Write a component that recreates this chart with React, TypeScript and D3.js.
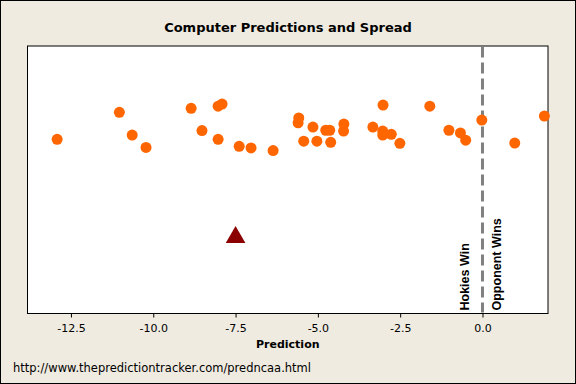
import React, { useEffect, useRef } from "react";
import * as d3 from "d3";

// computer predictions (points), x = predicted margin, y = vertical jitter
const predictions = [
  -12.92, -11.03, -10.64, -10.22, -8.85, -8.52, -8.03, -7.91, -8.03, -7.39,
  -7.03, -6.36, -5.58, -5.6, -5.43, -5.15, -5.03, -4.76, -4.64, -4.61,
  -4.21, -4.22, -3.33, -3.02, -3.03, -3.03, -2.77, -2.51, -1.6, -1.02,
  -0.67, -0.51, -0.02, 0.98, 1.88,
];
const jitter = [
  65.1, 75.2, 66.7, 62.1, 76.7, 68.4, 77.5, 78.3, 65.1, 62.5,
  61.9, 60.9, 73.1, 71.3, 64.4, 69.7, 64.4, 68.5, 68.5, 64.0,
  70.8, 68.2, 69.7, 77.9, 68.2, 66.7, 67.0, 63.6, 77.5, 68.5,
  67.5, 64.8, 72.3, 63.7, 73.8,
];
const spread = [{ x: -7.5, y: 28.5 }];
const xTicks = [-12.5, -10, -7.5, -5, -2.5, 0];

const W = 576;
const H = 384;
const plot = { left: 27.5, right: 548, top: 46, bottom: 313.5 };

const App = () => {
  const ref = useRef(null);

  useEffect(() => {
    const svg = d3.select(ref.current);
    svg.selectAll("*").remove();

    const x = d3.scaleLinear().domain([-13.82, 1.99]).range([plot.left, plot.right]);
    const y = d3.scaleLinear().domain([0, 100]).range([plot.bottom, plot.top]);

    svg.append("rect")
      .attr("x", 0.5).attr("y", 0.5)
      .attr("width", W - 1).attr("height", H - 1)
      .attr("fill", "#efebe0").attr("stroke", "#000");

    svg.append("text")
      .attr("x", 288).attr("y", 31.5)
      .attr("text-anchor", "middle")
      .style("font-family", "DejaVu Sans")
      .style("font-weight", "bold")
      .style("font-size", "13px")
      .text("Computer Predictions and Spread");

    svg.append("rect")
      .attr("x", plot.left).attr("y", plot.top)
      .attr("width", plot.right - plot.left)
      .attr("height", plot.bottom - plot.top)
      .attr("fill", "#fff").attr("stroke", "#000");

    // x axis
    const axis = svg.append("g")
      .attr("transform", `translate(0,${plot.bottom})`)
      .call(d3.axisBottom(x).tickValues(xTicks).tickSize(4).tickSizeOuter(0));
    axis.select(".domain").remove();
    axis.selectAll("line").attr("stroke", "#000");
    axis.selectAll("text")
      .attr("dy", "1.05em")
      .style("font-family", "DejaVu Sans")
      .style("font-size", "11px")
      .attr("fill", "#000")
      .text(d => d3.format(".1f")(d).replace("−", "-"));

    svg.append("text")
      .attr("x", (plot.left + plot.right) / 2).attr("y", 348)
      .attr("text-anchor", "middle")
      .style("font-family", "DejaVu Sans")
      .style("font-weight", "bold")
      .style("font-size", "11px")
      .text("Prediction");

    svg.append("text")
      .attr("x", 13).attr("y", 372)
      .style("font-family", "DejaVu Sans")
      .style("font-size", "11.5px")
      .text("http://www.thepredictiontracker.com/predncaa.html");

    // reference line at 0
    svg.append("line")
      .attr("x1", x(0)).attr("x2", x(0))
      .attr("y1", plot.top + 0.5).attr("y2", plot.bottom - 1)
      .attr("stroke", "#808080")
      .attr("stroke-width", 3)
      .attr("stroke-dasharray", "11,5");

    const label = (txt, px) =>
      svg.append("text")
        .attr("transform", `translate(${px},${plot.bottom - 3}) rotate(-90)`)
        .style("font-family", "Liberation Sans")
        .style("font-weight", "bold")
        .style("font-size", "12.5px")
        .text(txt);
    label("Hokies Win", x(0) - 13);
    label("Opponent Wins", x(0) + 19);

    const pts = predictions.map((p, i) => ({ x: p, y: jitter[i] }));
    svg.append("g")
      .selectAll("circle")
      .data(pts)
      .enter()
      .append("circle")
      .attr("cx", d => x(d.x))
      .attr("cy", d => y(d.y))
      .attr("r", 5.5)
      .attr("fill", "#ff6600");

    svg.append("g")
      .selectAll("path")
      .data(spread)
      .enter()
      .append("path")
      .attr("d", d3.symbol().type(d3.symbolTriangle).size(167))
      .attr("transform", d => `translate(${x(d.x)},${y(d.y)})`)
      .attr("fill", "#8b0000");
  }, []);

  return (
    <svg
      ref={ref}
      width={W}
      height={H}
      style={{ position: "absolute", left: 0, top: 0, display: "block" }}
    />
  );
};

export default App;
